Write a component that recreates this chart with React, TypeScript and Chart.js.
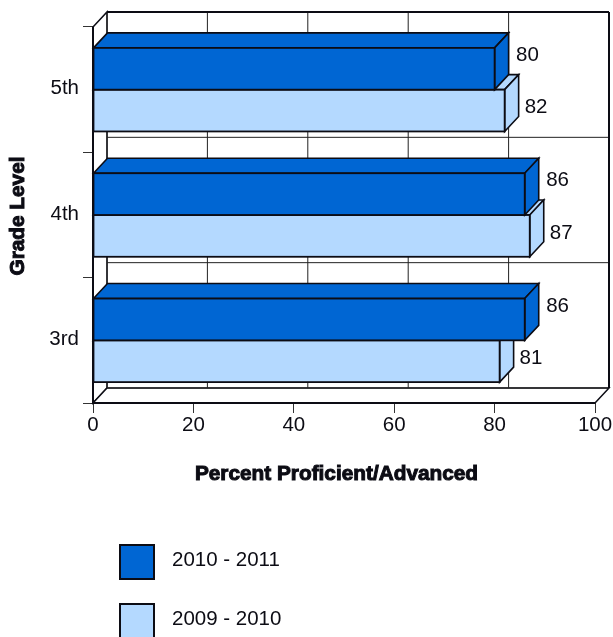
import React, { useEffect, useRef } from "react";
import { Chart, registerables } from "chart.js";

Chart.register(...registerables);

const grades = ["5th", "4th", "3rd"];
const series2011 = [80, 86, 86];
const series2010 = [82, 87, 81];
const seriesNames = ["2010 - 2011", "2009 - 2010"];
const xAxisTitle = "Percent Proficient/Advanced";
const yAxisTitle = "Grade Level";

const BLUE = "#0066d3";
const LIGHT = "#b4d9ff";
const INK = "#0c0c14";
const DX = 14;
const DY = -15;
const FONT = "'Liberation Sans', Arial, sans-serif";
const labelOffset = [
  { x: 21.5, y: -13.5 },
  { x: 20, y: -3 },
];

function poly(ctx: CanvasRenderingContext2D, pts: number[][], fill: string | null, stroke: string, width: number) {
  ctx.beginPath();
  pts.forEach((p, i) => (i ? ctx.lineTo(p[0], p[1]) : ctx.moveTo(p[0], p[1])));
  ctx.closePath();
  if (fill) {
    ctx.fillStyle = fill;
    ctx.fill();
  }
  ctx.strokeStyle = stroke;
  ctx.lineWidth = width;
  ctx.lineJoin = "miter";
  ctx.stroke();
}

function line(ctx: CanvasRenderingContext2D, x0: number, y0: number, x1: number, y1: number, color: string, width: number) {
  ctx.beginPath();
  ctx.moveTo(x0, y0);
  ctx.lineTo(x1, y1);
  ctx.strokeStyle = color;
  ctx.lineWidth = width;
  ctx.stroke();
}

const box3d = {
  id: "box3d",
  beforeDatasetsDraw(chart: any) {
    const { ctx, chartArea: a, scales } = chart;
    const { left: l, right: r, top: t, bottom: b } = a;
    ctx.save();
    poly(ctx, [[l, t], [l + DX, t + DY], [l + DX, b + DY], [l, b]], "#fff", INK, 1.5);
    poly(ctx, [[l, b], [l + DX, b + DY], [r + DX, b + DY], [r, b]], "#fff", INK, 1.5);
    scales.x.ticks.forEach((tk: any) => {
      const x = scales.x.getPixelForValue(tk.value) + DX;
      line(ctx, x, t + DY, x, b + DY, "#222", 1);
    });
    const band = (b - t) / grades.length;
    grades.forEach((_, i) => {
      const y = scales.y.getPixelForTick(i) + band / 2 + DY;
      line(ctx, l + DX, y, r + DX, y, "#222", 1);
    });
    line(ctx, l + DX, t + DY, r + DX, t + DY, INK, 2);
    line(ctx, r + DX, t + DY, r + DX, b + DY, INK, 2);
    ctx.restore();
  },
  beforeDatasetDraw(chart: any, args: any) {
    const { ctx } = chart;
    const ds = chart.data.datasets[args.index];
    ctx.save();
    args.meta.data.forEach((bar: any) => {
      const { x, y, base, height } = bar.getProps(["x", "y", "base", "height"], true);
      const top = y - height / 2;
      const bot = y + height / 2;
      poly(ctx, [[base, top], [base + DX, top + DY], [x + DX, top + DY], [x, top]], ds.backgroundColor, INK, 1.6);
      poly(ctx, [[x, top], [x + DX, top + DY], [x + DX, bot + DY], [x, bot]], ds.backgroundColor, INK, 1.6);
    });
    ctx.restore();
  },
  afterDatasetDraw(chart: any, args: any) {
    const { ctx } = chart;
    ctx.save();
    args.meta.data.forEach((bar: any) => {
      const { x, y, base, height } = bar.getProps(["x", "y", "base", "height"], true);
      ctx.strokeStyle = INK;
      ctx.lineWidth = 1.8;
      ctx.strokeRect(base, y - height / 2, x - base, height);
    });
    ctx.restore();
  },
  afterDatasetsDraw(chart: any) {
    const { ctx, chartArea: a } = chart;
    ctx.save();
    line(ctx, a.left, a.top, a.left, a.bottom, INK, 2);
    line(ctx, a.left, a.bottom, a.right, a.bottom, INK, 2);
    ctx.fillStyle = INK;
    ctx.font = `20.5px ${FONT}`;
    ctx.textAlign = "left";
    ctx.textBaseline = "middle";
    chart.data.datasets.forEach((ds: any, di: number) => {
      chart.getDatasetMeta(di).data.forEach((bar: any, i: number) => {
        const o = labelOffset[di];
        ctx.fillText(String(ds.data[i]), bar.x + o.x, bar.y + o.y);
      });
    });
    const rows = [562, 621];
    chart.data.datasets.forEach((ds: any, di: number) => {
      const cy = rows[di];
      ctx.fillStyle = ds.backgroundColor;
      ctx.fillRect(120, cy - 17, 34, 34);
      ctx.strokeStyle = INK;
      ctx.lineWidth = 2;
      ctx.strokeRect(120, cy - 17, 34, 34);
      ctx.fillStyle = INK;
      ctx.fillText(ds.label, 172, cy - 2);
    });
    ctx.strokeStyle = INK;
    ctx.lineWidth = 1;
    ctx.font = `bold 20.8px ${FONT}`;
    ctx.textAlign = "center";
    ctx.fillText(xAxisTitle, 336.5, 474);
    ctx.strokeText(xAxisTitle, 336.5, 474);
    ctx.translate(18, 216);
    ctx.rotate(-Math.PI / 2);
    ctx.fillText(yAxisTitle, 0, 0);
    ctx.strokeText(yAxisTitle, 0, 0);
    ctx.restore();
  },
};

export default function App() {
  const ref = useRef<HTMLCanvasElement | null>(null);
  useEffect(() => {
    const chart = new Chart(ref.current as HTMLCanvasElement, {
      type: "bar",
      plugins: [box3d],
      data: {
        labels: grades,
        datasets: [
          { label: seriesNames[0], data: series2011, backgroundColor: BLUE, borderWidth: 0, categoryPercentage: 2 / 3, barPercentage: 1 },
          { label: seriesNames[1], data: series2010, backgroundColor: LIGHT, borderWidth: 0, categoryPercentage: 2 / 3, barPercentage: 1 },
        ],
      } as any,
      options: {
        indexAxis: "y",
        responsive: false,
        animation: false,
        layout: { padding: { left: 9, right: 18, top: 27, bottom: 154 } },
        plugins: { legend: { display: false }, tooltip: { enabled: false } },
        scales: {
          x: {
            min: 0,
            max: 100,
            afterFit: (s: any) => { s.height = 80; },
            ticks: { stepSize: 20, color: INK, font: { family: FONT, size: 20.5 }, padding: 0, maxRotation: 0 },
            grid: { drawOnChartArea: false, tickLength: 10, color: "#333" },
            border: { display: false },
          },
          y: {
            afterFit: (s: any) => { s.width = 84; },
            ticks: { color: INK, font: { family: FONT, size: 20.5 }, padding: 4, labelOffset: -1 },
            grid: { drawOnChartArea: false, tickLength: 10, color: "#333", offset: true },
            border: { display: false },
          },
        },
      } as any,
    });
    return () => chart.destroy();
  }, []);
  return (
    <canvas
      ref={ref}
      width={613}
      height={637}
      style={{ position: "absolute", left: 0, top: 0, width: 613, height: 637 }}
    />
  );
}
